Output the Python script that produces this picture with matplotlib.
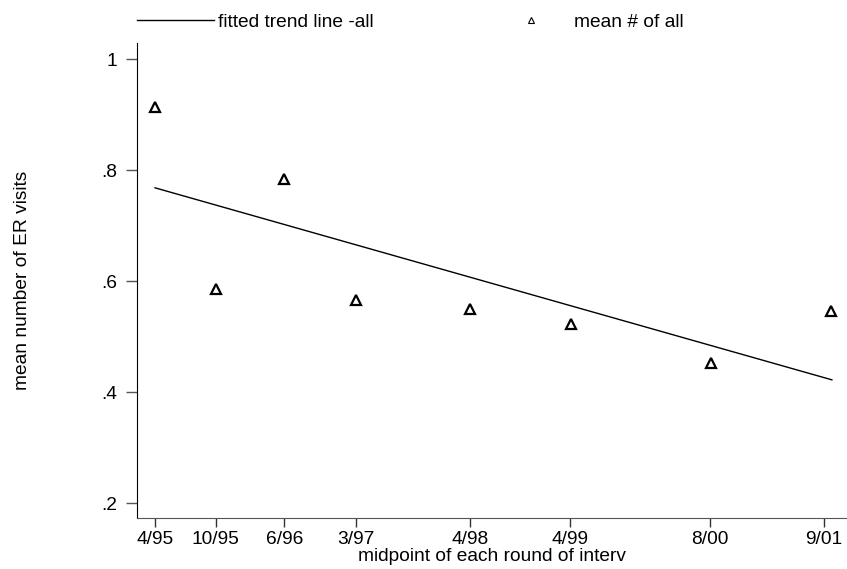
import numpy as np
import matplotlib.pyplot as plt
from matplotlib.lines import Line2D

plt.rcParams['font.family'] = ['Liberation Sans', 'DejaVu Sans']
plt.rcParams['font.size'] = 13.8

#------------------------

# midpoint of each interview round (decimal years) and mean # of ER visits
round_mid = [1995.25, 1995.83, 1996.49, 1997.18, 1998.27, 1999.24, 2000.58, 2001.73]
mean_all = [0.914, 0.586, 0.784, 0.566, 0.550, 0.523, 0.452, 0.546]

trend_x = [1995.25, 2001.74]
trend_y = [0.768, 0.422]

tick_pos = [1995.25, 1995.83, 1996.49, 1997.18, 1998.27, 1999.23, 2000.57, 2001.66]
tick_labels = ['4/95', '10/95', '6/96', '3/97', '4/98', '4/99', '8/00', '9/01']

y_ticks = [0.2, 0.4, 0.6, 0.8, 1.0]
y_labels = ['.2', '.4', '.6', '.8', '1']

#------------------------

fig = plt.figure(figsize=(8.47, 5.69), dpi=100)
ax = fig.add_axes([137/847, 1-518/569, 1-137/847, (518-43)/569])

ax.plot(trend_x, trend_y, color='black', lw=1.0)
ax.plot(round_mid, mean_all, ls='none', marker='^', ms=7.5, mfc='none', mec='black', mew=1.6)

ax.set_xlim(1995.077, 2001.885)
ax.set_ylim(0.173, 1.029)

ax.set_xticks(tick_pos)
ax.set_xticklabels(tick_labels)
ax.set_yticks(y_ticks)
ax.set_yticklabels(y_labels)

for s in ['top', 'right']:
    ax.spines[s].set_visible(False)
ax.spines['left'].set_color('black')
ax.spines['bottom'].set_color('#555555')
ax.tick_params(axis='y', length=8, width=1, color='#555555', pad=6)
ax.tick_params(axis='x', length=6.5, width=1, color='#333333', pad=2.5)

ax.set_xlabel('midpoint of each round of interv', labelpad=0.5)
ax.set_ylabel('mean number of ER visits')
ax.yaxis.set_label_coords(-0.15, 0.5)

handles = [
    Line2D([], [], color='black', lw=1.0),
    Line2D([], [], ls='none', marker='^', ms=5, mfc='none', mec='black', mew=0.8),
]
fig.legend(handles, ['fitted trend line -all', 'mean # of all'],
           loc='center left', bbox_to_anchor=(137/847, 1-22/569), ncol=2,
           frameon=False, handlelength=4.0, handletextpad=0.21,
           columnspacing=6.25, borderpad=0, borderaxespad=0, numpoints=1)

fig.savefig('out.png', dpi=100)
